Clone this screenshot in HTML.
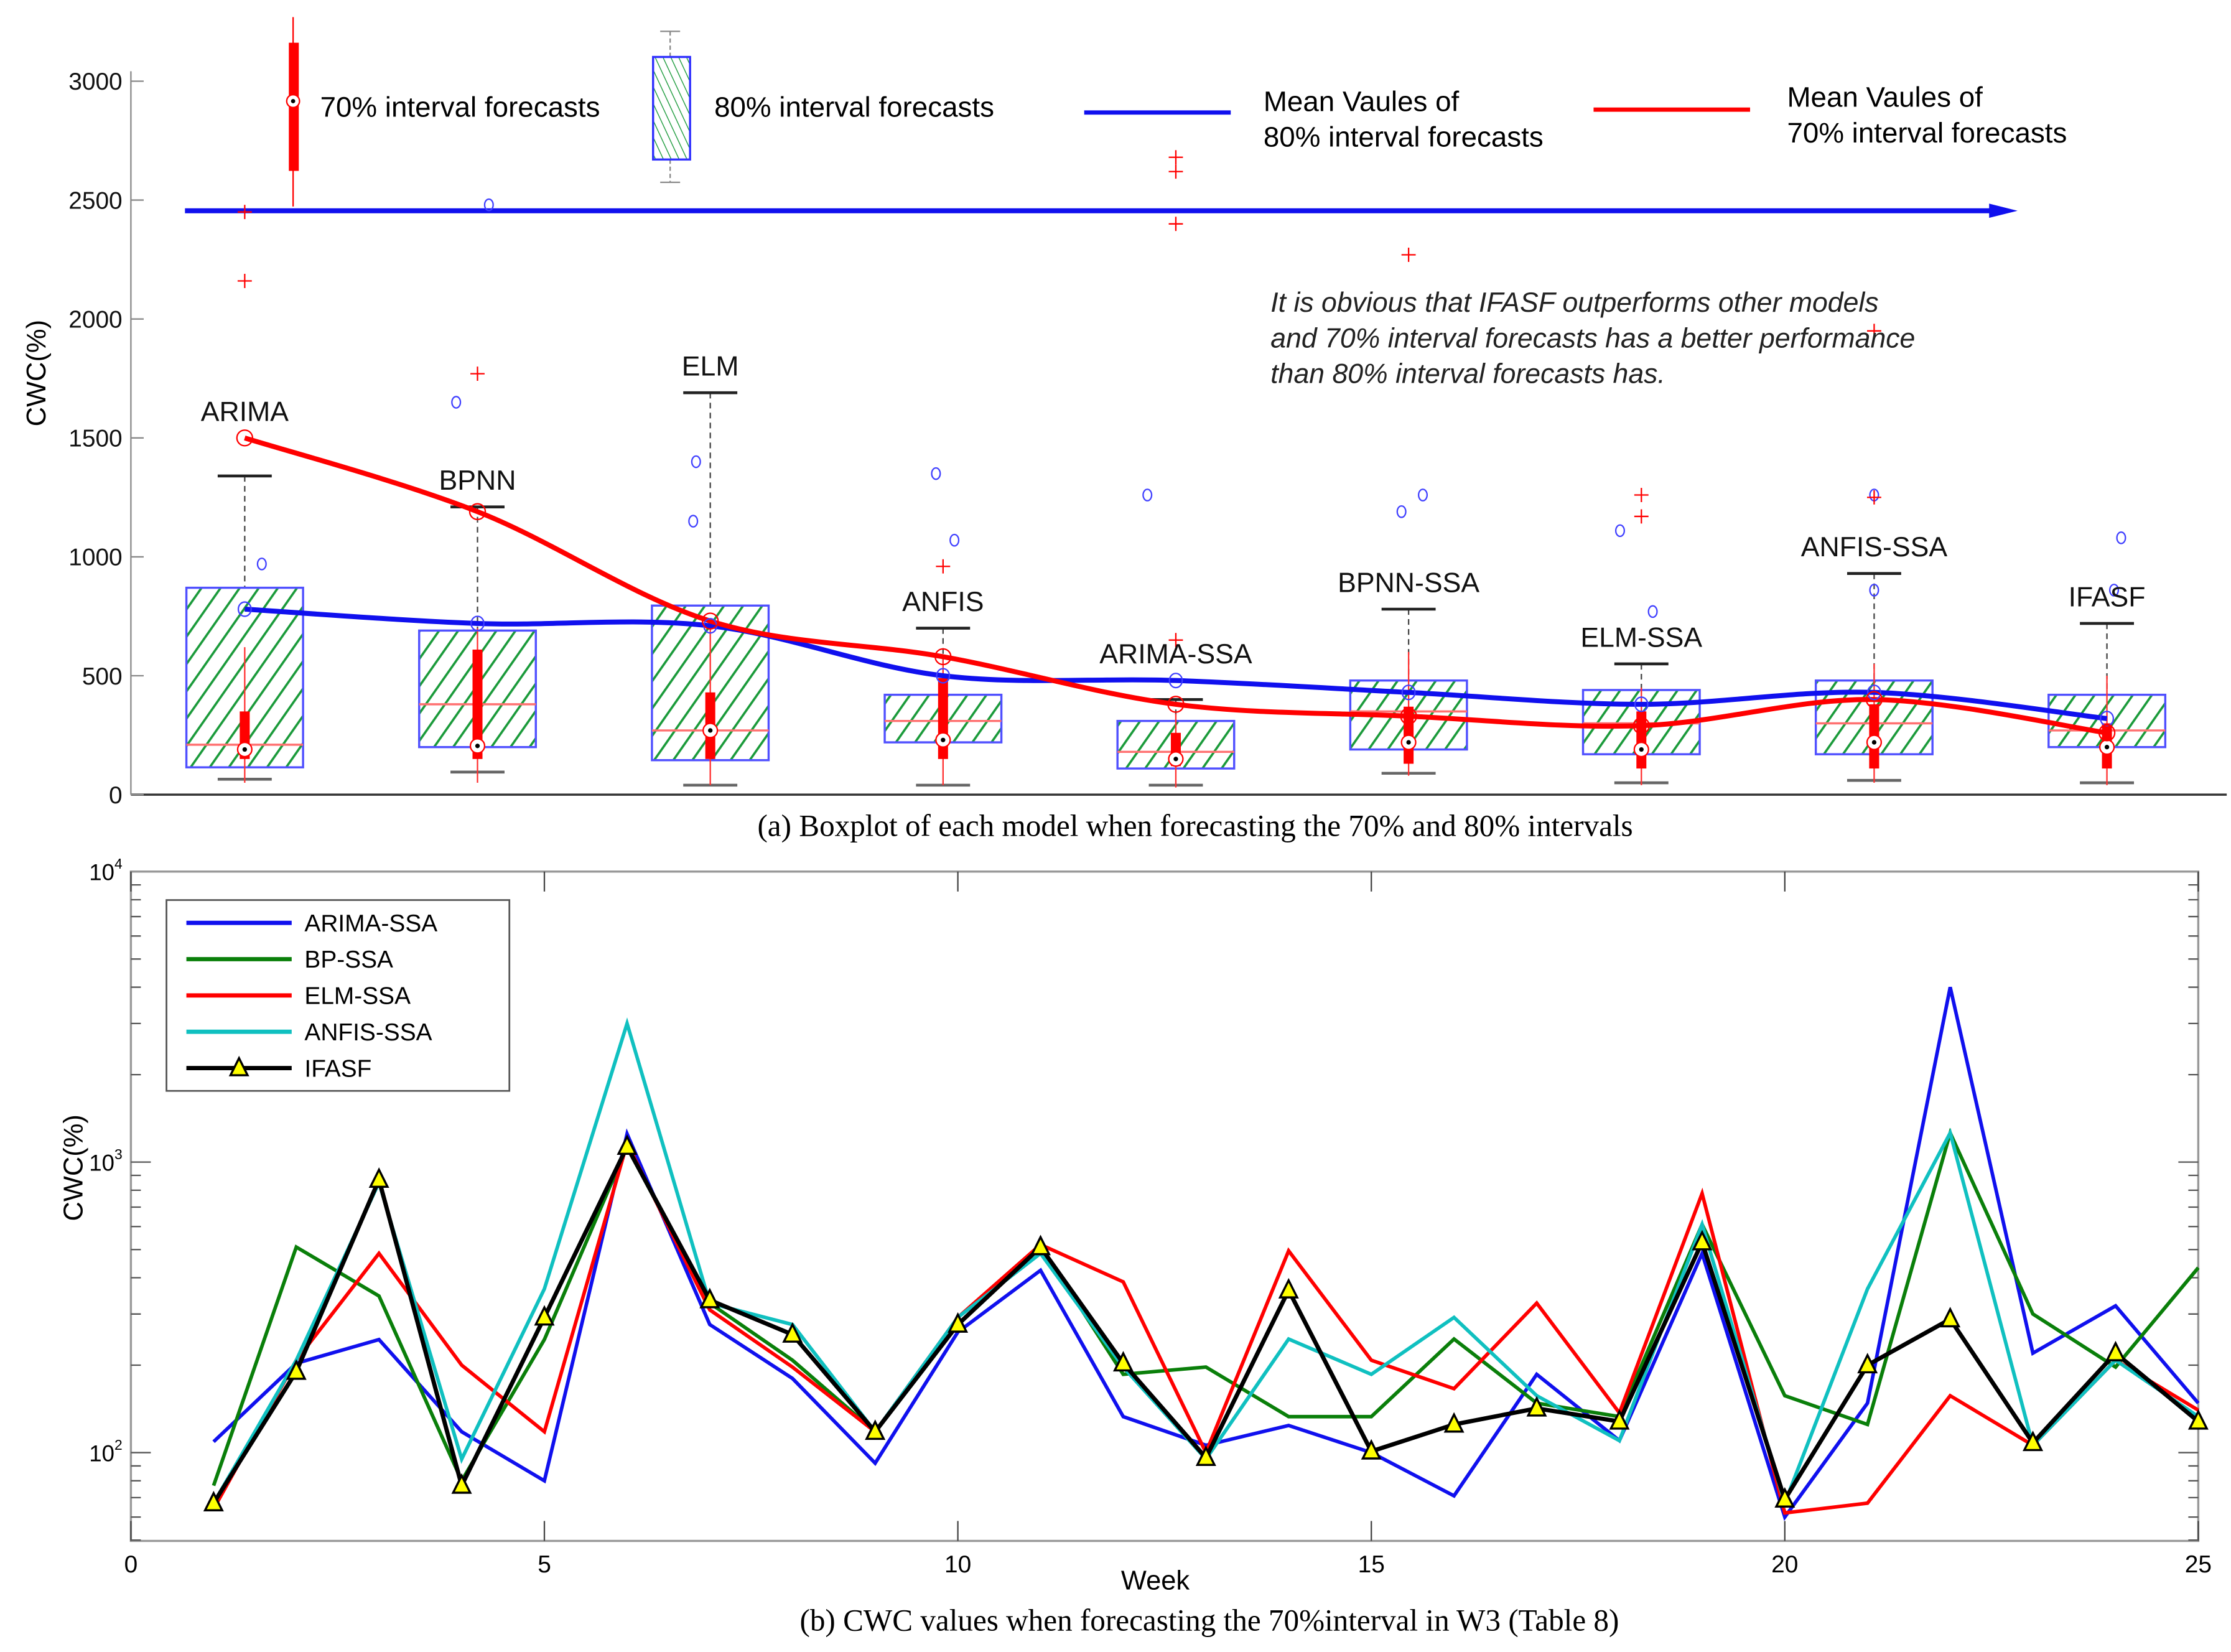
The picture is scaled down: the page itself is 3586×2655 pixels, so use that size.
<!DOCTYPE html>
<html><head><meta charset="utf-8"><style>
html,body{margin:0;padding:0;background:#fff;}
svg{display:block;}
text{font-family:"Liberation Sans",sans-serif;}
.serif{font-family:"Liberation Serif",serif;}
</style></head><body>
<svg id="chart" width="3586" height="2655" viewBox="0 0 1568 1160" preserveAspectRatio="none" xmlns="http://www.w3.org/2000/svg">
<defs>
<pattern id="hatch" patternUnits="userSpaceOnUse" width="11" height="11" patternTransform="rotate(35)">
<rect width="11" height="11" fill="#fff"/><line x1="0" y1="0" x2="0" y2="11" stroke="#1a9a3a" stroke-width="3.2"/>
</pattern>
<pattern id="hatch2" patternUnits="userSpaceOnUse" width="5" height="5" patternTransform="rotate(-25)">
<rect width="5" height="5" fill="#fff"/><line x1="0" y1="0" x2="0" y2="5" stroke="#1a9a3a" stroke-width="1.2"/>
</pattern>
</defs>
<g id="panelA"></g>
<g id="panelB"></g>
</svg>
<script>
// ---------- Panel (a) data ----------
const models = ["ARIMA","BPNN","ELM","ANFIS","ARIMA-SSA","BPNN-SSA","ELM-SSA","ANFIS-SSA","IFASF"];
const box80Low = [115,200,145,220,110,190,170,170,200];
const box80High = [870,690,795,420,310,480,440,480,420];
const med80 = [210,380,270,310,180,350,300,300,270];
const whisk80Low = [65,95,40,40,40,90,50,60,50];
const whisk80High = [1340,1210,1690,700,400,780,550,930,720];
const box70Low = [150,150,150,150,120,130,110,110,110];
const box70High = [350,610,430,490,260,370,350,380,300];
const med70 = [190,205,270,230,150,220,190,220,200];
const whisk70Low = [50,50,40,40,30,80,40,50,40];
const whisk70High = [620,700,740,570,340,600,450,550,500];
const mean80 = [780,720,710,500,480,430,380,430,320];
const mean70 = [1500,1190,730,580,380,330,290,400,260];
const outlier80 = [[970],[1650,2480],[1400,1150],[1350,1070],[1260],[1190,1260],[1110,770],[860,1260],[1080,860]];
const outlier70 = [[2160,2450],[1770],[],[960],[2400,2620,2680,650],[2270],[1260,1170],[1950,1250],[]];
const yTicksA = [0,500,1000,1500,2000,2500,3000];
// horizontal jitter of blue outlier markers (style, px)
const out80Dx = [[12],[-15,8],[-10,-12],[-5,8],[-20],[-5,10],[-15,8],[0,0],[10,5]];

// ---------- Panel (b) data ----------
const weeks = [1,2,3,4,5,6,7,8,9,10,11,12,13,14,15,16,17,18,19,20,21,22,23,24,25];
const arimaSSA = [109,203,245,118,80,1250,276,180,92,260,424,133,106,124,100,71,186,110,485,60,148,4000,220,320,148];
const bpSSA = [77,510,346,80,245,1130,327,208,118,276,514,186,197,133,133,246,148,133,610,157,125,1260,300,197,433];
const elmSSA = [64,208,485,200,118,1160,310,197,118,292,520,387,100,495,208,166,327,137,780,62,67,157,106,208,140];
const anfisSSA = [67,208,850,95,366,3000,327,276,118,292,485,197,95,246,186,292,157,110,610,67,366,1260,106,208,133];
const ifasf = [67,190,870,77,292,1130,335,255,118,276,510,203,96,362,101,125,142,128,530,69,200,288,108,220,128];
const xTicksB = [0,5,10,15,20,25];
const yTicksB = [2,3,4];

const NS="http://www.w3.org/2000/svg";
function mk(parent,tag,attrs,txt){const el=document.createElementNS(NS,tag);for(const k in attrs)el.setAttribute(k,attrs[k]);if(txt!==undefined)el.textContent=txt;parent.appendChild(el);return el;}

// ===== Panel A =====
const gA=document.getElementById('panelA');
const AX0=92, AX1=1565, AY0=558, AY1=57;
const ya=v=>AY0-(v/3000)*(AY0-AY1);
const xa=i=>172+i*163.6;
let e;
e=mk(gA,'line',{x1:AX0,y1:AY0,x2:AX1,y2:AY0,stroke:'#333','stroke-width':1.5});


e=mk(gA,'line',{x1:AX0,y1:AY0,x2:AX0,y2:50,stroke:'#888','stroke-width':1});


yTicksA.forEach(v=>{
  mk(gA,'line',{x1:AX0,y1:ya(v),x2:AX0+9,y2:ya(v),stroke:'#888','stroke-width':1});
  const t=mk(gA,'text',{x:AX0-6,y:ya(v)+6,'text-anchor':'end','font-size':17,fill:'#111'},String(v));
  
  
});
e=mk(gA,'text',{x:32,y:262,'text-anchor':'middle','font-size':19,transform:'rotate(-90 32 262)'},'CWC(%)');



e=mk(gA,'line',{x1:130,y1:148,x2:1400,y2:148,stroke:'#1010ee','stroke-width':3.5});


mk(gA,'polygon',{points:'1398,143 1418,148 1398,153',fill:'#1010ee'});

models.forEach((m,i)=>{
  const x=xa(i), hw=41;
  const g=mk(gA,'g',{});
  
  
  mk(g,'line',{x1:x,y1:ya(whisk80High[i]),x2:x,y2:ya(box80High[i]),stroke:'#444','stroke-width':1,'stroke-dasharray':'4,3'});
  mk(g,'line',{x1:x-19,y1:ya(whisk80High[i]),x2:x+19,y2:ya(whisk80High[i]),stroke:'#222','stroke-width':2});
  mk(g,'line',{x1:x-19,y1:ya(whisk80Low[i]),x2:x+19,y2:ya(whisk80Low[i]),stroke:'#666','stroke-width':2});
  mk(g,'rect',{x:x-hw,y:ya(box80High[i]),width:2*hw,height:ya(box80Low[i])-ya(box80High[i]),fill:'url(#hatch)',stroke:'#5050ff','stroke-width':1.5});
  mk(g,'line',{x1:x-hw,y1:ya(med80[i]),x2:x+hw,y2:ya(med80[i]),stroke:'#ff7070','stroke-width':1.5});
  mk(g,'line',{x1:x,y1:ya(whisk70High[i]),x2:x,y2:ya(whisk70Low[i]),stroke:'#ff3030','stroke-width':1});
  mk(g,'rect',{x:x-3.5,y:ya(box70High[i]),width:7,height:ya(box70Low[i])-ya(box70High[i]),fill:'#f00'});
  mk(g,'circle',{cx:x,cy:ya(med70[i]),r:5,fill:'#fff',stroke:'#f00','stroke-width':1});
  mk(g,'circle',{cx:x,cy:ya(med70[i]),r:1.6,fill:'#000'});
  outlier80[i].forEach((v,k)=>mk(g,'ellipse',{cx:x+((out80Dx[i]&&out80Dx[i][k])||0),cy:ya(v),rx:3,ry:4,fill:'none',stroke:'#4040ff','stroke-width':1}));
  outlier70[i].forEach(v=>{mk(g,'line',{x1:x-5,y1:ya(v),x2:x+5,y2:ya(v),stroke:'#f00'});mk(g,'line',{x1:x,y1:ya(v)-5,x2:x,y2:ya(v)+5,stroke:'#f00'});});
  const lbl=mk(gA,'text',{x:x,y:ya(Math.max(whisk80High[i],mean70[i],mean80[i]))-12,'text-anchor':'middle','font-size':19.5,fill:'#111'},m);
  
  
});
function smooth(pts){let d='M'+pts[0][0]+','+pts[0][1];for(let i=0;i<pts.length-1;i++){const p0=pts[Math.max(0,i-1)],p1=pts[i],p2=pts[i+1],p3=pts[Math.min(pts.length-1,i+2)];d+=' C'+(p1[0]+(p2[0]-p0[0])/6)+','+(p1[1]+(p2[1]-p0[1])/6)+' '+(p2[0]-(p3[0]-p1[0])/6)+','+(p2[1]-(p3[1]-p1[1])/6)+' '+p2[0]+','+p2[1];}return d;}
e=mk(gA,'path',{d:smooth(mean80.map((v,i)=>[xa(i),ya(v)])),fill:'none',stroke:'#1010ee','stroke-width':3.5});


e=mk(gA,'path',{d:smooth(mean70.map((v,i)=>[xa(i),ya(v)])),fill:'none',stroke:'#f00','stroke-width':3.5});


mean80.forEach((v,i)=>mk(gA,'ellipse',{cx:xa(i),cy:ya(v),rx:4.5,ry:5,fill:'none',stroke:'#4040ff'}));
mean70.forEach((v,i)=>mk(gA,'circle',{cx:xa(i),cy:ya(v),r:5.5,fill:'none',stroke:'#f00'}));

const lg=mk(gA,'g',{});


mk(lg,'line',{x1:206,y1:12,x2:206,y2:145,stroke:'#f00','stroke-width':1});
mk(lg,'rect',{x:203,y:30,width:7,height:90,fill:'#f00'});
mk(lg,'circle',{cx:206,cy:71,r:4.5,fill:'#fff',stroke:'#f00'});mk(lg,'circle',{cx:206,cy:71,r:1.5,fill:'#000'});
mk(lg,'text',{x:225,y:82,'font-size':20},'70% interval forecasts');
mk(lg,'line',{x1:471,y1:22,x2:471,y2:128,stroke:'#888','stroke-dasharray':'3,2'});
mk(lg,'line',{x1:464,y1:22,x2:478,y2:22,stroke:'#888'});mk(lg,'line',{x1:464,y1:128,x2:478,y2:128,stroke:'#888'});
mk(lg,'rect',{x:459,y:40,width:26,height:72,fill:'url(#hatch2)',stroke:'#3030ff','stroke-width':1.5});
mk(lg,'text',{x:502,y:82,'font-size':20},'80% interval forecasts');
mk(lg,'line',{x1:762,y1:79,x2:865,y2:79,stroke:'#1010ee','stroke-width':3});
mk(lg,'text',{x:888,y:78,'font-size':20},'Mean Vaules of');
mk(lg,'text',{x:888,y:103,'font-size':20},'80% interval forecasts');
mk(lg,'line',{x1:1120,y1:77,x2:1230,y2:77,stroke:'#f00','stroke-width':3});
mk(lg,'text',{x:1256,y:75,'font-size':20},'Mean Vaules of');
mk(lg,'text',{x:1256,y:100,'font-size':20},'70% interval forecasts');
const note=mk(gA,'g',{});


['It is obvious that IFASF outperforms other models','and 70% interval forecasts has a better performance','than 80% interval forecasts has.'].forEach((t,k)=>mk(note,'text',{x:893,y:219+k*25,'font-size':19.5,'font-style':'italic',fill:'#222'},t));
e=mk(gA,'text',{x:840,y:587,'text-anchor':'middle','font-size':21.5,class:'serif'},'(a) Boxplot of each model when forecasting the 70% and 80% intervals');



// ===== Panel B =====
const gB=document.getElementById('panelB');
const BX0=92,BX1=1545,BY0=1082,BYT=612;
const xb=w=>BX0+w*(BX1-BX0)/25;
const yb=v=>1020-(Math.log10(v)-2)*204;
e=mk(gB,'rect',{x:BX0,y:BYT,width:BX1-BX0,height:BY0-BYT,fill:'none',stroke:'#999','stroke-width':1.5});


xTicksB.forEach(t=>{
  mk(gB,'line',{x1:xb(t),y1:BY0,x2:xb(t),y2:BY0-14,stroke:'#444'});
  mk(gB,'line',{x1:xb(t),y1:BYT,x2:xb(t),y2:BYT+14,stroke:'#444'});
  const tx=mk(gB,'text',{x:xb(t),y:1104,'text-anchor':'middle','font-size':17},String(t));
  
  
});
for(let d=1;d<=3;d++)for(let m=1;m<=9;m++){const v=m*Math.pow(10,d);const y=yb(v);if(y>BY0||y<BYT)continue;const L=m===1?14:7;
  mk(gB,'line',{x1:BX0,y1:y,x2:BX0+L,y2:y,stroke:'#555'});mk(gB,'line',{x1:BX1,y1:y,x2:BX1-L,y2:y,stroke:'#555'});}
yTicksB.forEach(p=>{
  const t=mk(gB,'text',{x:86,y:yb(Math.pow(10,p))+6,'text-anchor':'end','font-size':16});
  
  
  mk(t,'tspan',{},'10');mk(t,'tspan',{dy:-8,'font-size':10},String(p));
});
e=mk(gB,'text',{x:58,y:820,'text-anchor':'middle','font-size':19,transform:'rotate(-90 58 820)'},'CWC(%)');


e=mk(gB,'text',{x:812,y:1116,'text-anchor':'middle','font-size':19},'Week');


e=mk(gB,'text',{x:850,y:1145,'text-anchor':'middle','font-size':21.5,class:'serif'},'(b) CWC values when forecasting the 70%interval in W3 (Table 8)');


const series=[['ARIMA-SSA',arimaSSA,'#1010ee',2.5],['BP-SSA',bpSSA,'#0a7f0a',2.5],['ELM-SSA',elmSSA,'#f00',2.5],['ANFIS-SSA',anfisSSA,'#10c0c0',2.5],['IFASF',ifasf,'#000',3]];
series.forEach(([n,vals,c,w])=>{
  const p=mk(gB,'polyline',{points:vals.map((v,i)=>xb(weeks[i])+','+yb(v)).join(' '),fill:'none',stroke:c,'stroke-width':w});
  
  
});
ifasf.forEach((v,i)=>{const x=xb(weeks[i]),y=yb(v);
  const t=mk(gB,'polygon',{points:(x)+','+(y-7)+' '+(x-6)+','+(y+5)+' '+(x+6)+','+(y+5),fill:'#ff0',stroke:'#000','stroke-width':1.5});
  
  
});
const lb=mk(gB,'g',{});


mk(lb,'rect',{x:117,y:632,width:241,height:134,fill:'#fff',stroke:'#555','stroke-width':1.2});
series.forEach(([n,vals,c,w],k)=>{const y=648+k*25.5;
  mk(lb,'line',{x1:131,y1:y,x2:205,y2:y,stroke:c,'stroke-width':3});
  if(n==='IFASF')mk(lb,'polygon',{points:'168,'+(y-7)+' 162,'+(y+5)+' 174,'+(y+5),fill:'#ff0',stroke:'#000','stroke-width':1.5});
  mk(lb,'text',{x:214,y:y+6,'font-size':17},n);
});
</script>
</body></html>
